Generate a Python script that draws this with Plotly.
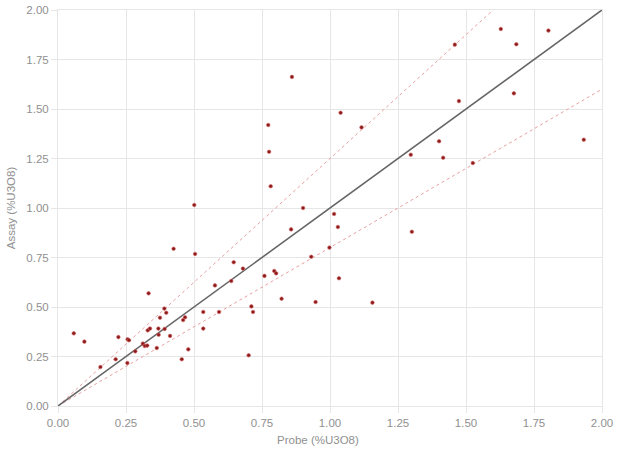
import plotly.graph_objects as go

# probe vs assay readings (%U3O8)
probe = [0.058, 0.097, 0.156, 0.212, 0.222, 0.256, 0.261, 0.255, 0.284, 0.312,
         0.319, 0.328, 0.330, 0.338, 0.333, 0.363, 0.369, 0.370, 0.375, 0.391,
         0.392, 0.398, 0.412, 0.425, 0.455, 0.460, 0.467, 0.479, 0.501, 0.504,
         0.534, 0.534, 0.577, 0.592, 0.637, 0.646, 0.680, 0.701, 0.711, 0.717,
         0.759, 0.773, 0.776, 0.782, 0.795, 0.802, 0.822, 0.857, 0.860, 0.901,
         0.931, 0.947, 0.998, 1.015, 1.029, 1.033, 1.039, 1.116, 1.156, 1.297,
         1.301, 1.401, 1.416, 1.459, 1.474, 1.525, 1.628, 1.676, 1.685, 1.803,
         1.933]
assay = [0.367, 0.325, 0.197, 0.236, 0.348, 0.337, 0.332, 0.217, 0.276, 0.315,
         0.303, 0.305, 0.382, 0.391, 0.569, 0.293, 0.391, 0.360, 0.446, 0.492,
         0.389, 0.471, 0.354, 0.794, 0.236, 0.434, 0.448, 0.286, 1.015, 0.768,
         0.475, 0.391, 0.609, 0.475, 0.631, 0.726, 0.694, 0.256, 0.503, 0.475,
         0.657, 1.419, 1.284, 1.110, 0.682, 0.670, 0.542, 0.892, 1.662, 1.000,
         0.754, 0.525, 0.800, 0.970, 0.904, 0.645, 1.481, 1.407, 0.522, 1.269,
         0.880, 1.337, 1.254, 1.825, 1.540, 1.227, 1.904, 1.579, 1.827, 1.896,
         1.345]

# reference lines: 1:1 and +/-20% bounds
ref_x = [0, 2]
one_to_one = [0, 2]
upper_x = [0, 1.6]
upper_y = [0, 2]
lower_x = [0, 2]
lower_y = [0, 1.6]

ticks = [0, 0.25, 0.5, 0.75, 1.0, 1.25, 1.5, 1.75, 2.0]
tick_text = ['%.2f' % t for t in ticks]

fig = go.Figure()

fig.add_trace(go.Scatter(
    x=upper_x, y=upper_y, mode='lines',
    line=dict(color='#e8a0a0', width=1, dash='dot'),
    hoverinfo='skip'
))
fig.add_trace(go.Scatter(
    x=lower_x, y=lower_y, mode='lines',
    line=dict(color='#e8a0a0', width=1, dash='dot'),
    hoverinfo='skip'
))
fig.add_trace(go.Scatter(
    x=ref_x, y=one_to_one, mode='lines',
    line=dict(color='#666666', width=1.6),
    hoverinfo='skip'
))
fig.add_trace(go.Scatter(
    x=probe, y=assay, mode='markers',
    marker=dict(size=3.6, color='#8b1a1a',
                line=dict(color='#d06060', width=0.6)),
))

axis_style = dict(
    range=[0, 2],
    tickvals=ticks,
    ticktext=tick_text,
    showgrid=True,
    gridcolor='#e6e6e6',
    gridwidth=1,
    zeroline=False,
    showline=True,
    linecolor='#e6e6e6',
    mirror=True,
    ticks='outside',
    ticklen=6,
    tickcolor='#e6e6e6',
    tickfont=dict(color='#909090', size=11.5),
    automargin=False,
)

fig.update_layout(
    width=624,
    height=454,
    showlegend=False,
    plot_bgcolor='white',
    paper_bgcolor='white',
    font=dict(family='Liberation Sans, Arial, sans-serif', color='#909090'),
    margin=dict(l=58, r=22, t=10, b=48),
    xaxis=axis_style,
    yaxis=dict(axis_style, title=dict(text='Assay (%U3O8)',
                                      font=dict(size=11.5), standoff=8)),
)

# x title sits a little left of centre in the original
fig.add_annotation(
    text='Probe (%U3O8)', xref='paper', yref='paper',
    x=0.478, y=-0.085, yanchor='middle', showarrow=False,
    font=dict(size=11.5, color='#909090')
)

# drop the default page margin so the figure sits at the window corner
fig.write_html("out.html", config={'displayModeBar': False},
               post_script="document.body.style.margin='0';")
